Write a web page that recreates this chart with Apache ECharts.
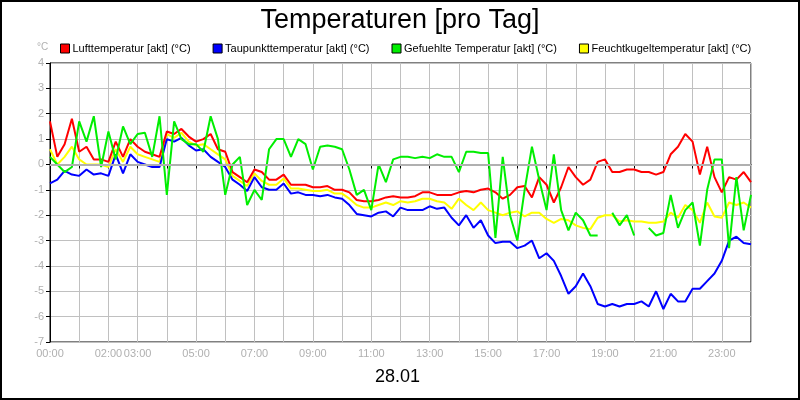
<!DOCTYPE html>
<html><head><meta charset="utf-8">
<script src="https://cdn.jsdelivr.net/npm/echarts@6/dist/echarts.min.js"></script>
<style>html,body{margin:0;padding:0;background:#fff}#c{width:800px;height:400px}</style>
</head><body><div id="c"></div>
<script>
const hours = [];
for (let i = 0; i <= 96; i++) hours.push(i / 4);
const shownLabels = ['00:00','02:00','03:00','05:00','07:00','09:00','11:00','13:00','15:00','17:00','19:00','21:00','23:00'];
const luft = [1.7,0.3,0.8,1.8,0.5,0.7,0.2,0.2,0.1,0.9,0.3,1.0,0.7,0.5,0.4,0.3,
 1.3,1.2,1.4,1.1,0.9,1.0,1.2,0.6,0.5,-0.3,-0.5,-0.7,-0.2,-0.3,-0.6,-0.6,
 -0.4,-0.8,-0.8,-0.8,-0.9,-0.9,-0.85,-1.0,-1.0,-1.1,-1.4,-1.45,-1.45,-1.4,-1.3,-1.25,
 -1.3,-1.3,-1.25,-1.1,-1.1,-1.2,-1.2,-1.2,-1.1,-1.05,-1.1,-1.0,-0.95,-1.1,-1.35,-1.2,
 -0.9,-0.85,-1.3,-0.5,-0.8,-1.5,-0.9,-0.1,-0.5,-0.8,-0.6,0.1,0.2,-0.3,-0.3,-0.2,
 -0.2,-0.3,-0.3,-0.4,-0.3,0.4,0.7,1.2,0.9,-0.4,0.7,-0.5,-1.1,-0.5,-0.6,-0.3,-0.7];
const taupunkt = [-0.75,-0.6,-0.25,-0.4,-0.45,-0.2,-0.4,-0.35,-0.45,0.4,-0.35,0.4,0.1,0.0,-0.1,-0.1,
 1.0,0.9,1.05,0.75,0.55,0.6,0.3,0.1,-0.1,-0.6,-0.8,-1.05,-0.5,-0.9,-1.0,-1.0,
 -0.75,-1.15,-1.1,-1.2,-1.2,-1.25,-1.2,-1.3,-1.35,-1.6,-1.95,-2.0,-2.05,-1.9,-1.85,-2.05,
 -1.7,-1.8,-1.8,-1.8,-1.65,-1.75,-1.7,-2.1,-2.4,-2.0,-2.5,-2.2,-2.8,-3.1,-3.05,-3.05,
 -3.3,-3.2,-3.0,-3.7,-3.5,-3.8,-4.4,-5.1,-4.8,-4.3,-4.8,-5.5,-5.6,-5.5,-5.6,-5.5,
 -5.5,-5.4,-5.6,-5.0,-5.7,-5.1,-5.4,-5.4,-4.9,-4.9,-4.6,-4.3,-3.8,-3.0,-2.85,-3.1,-3.15];
const gefuehlt = [0.3,0.0,-0.3,-0.1,1.7,0.9,1.9,-0.1,1.3,0.2,1.5,0.8,1.2,1.25,0.3,1.9,
 -1.2,1.7,1.0,0.8,0.8,0.5,1.9,1.0,-1.2,0.0,0.3,-1.6,-1.0,-1.4,0.6,1.0,
 1.0,0.3,1.0,0.8,-0.2,0.7,0.75,0.7,0.6,-0.2,-1.2,-1.0,-1.8,0.0,-0.7,0.2,
 0.3,0.3,0.25,0.3,0.25,0.4,0.3,0.3,-0.3,0.5,0.5,0.45,0.45,-2.9,0.3,-2.0,
 -3.0,-1.0,0.7,-0.6,-1.8,0.4,-1.8,-2.6,-1.9,-2.2,-2.8,-2.8,null,-1.9,-2.4,-2.0,
 -2.8,null,-2.5,-2.8,-2.7,-1.2,-2.5,-1.8,-1.5,-3.2,-1.0,0.2,0.2,-3.3,-0.5,-2.6,-1.2];
const feucht = [0.6,0.0,0.3,0.7,0.2,0.0,0.0,0.0,-0.1,0.6,0.1,0.7,0.4,0.3,0.2,0.1,
 1.2,1.05,1.25,0.9,0.75,0.8,0.6,0.4,0.2,-0.45,-0.65,-0.85,-0.35,-0.65,-0.8,-0.8,
 -0.55,-0.95,-0.95,-1.0,-1.05,-1.05,-1.0,-1.15,-1.15,-1.35,-1.6,-1.7,-1.7,-1.6,-1.5,-1.6,
 -1.45,-1.5,-1.45,-1.35,-1.35,-1.45,-1.5,-1.75,-1.35,-1.6,-1.8,-1.5,-1.8,-1.9,-2.0,-1.9,
 -1.85,-2.05,-1.9,-1.9,-2.15,-2.3,-2.15,-2.2,-2.4,-2.5,-2.55,-2.1,-2.0,-2.0,-2.25,-2.2,
 -2.25,-2.25,-2.3,-2.3,-2.25,-1.9,-2.1,-1.6,-1.8,-2.3,-1.5,-2.05,-2.1,-1.5,-1.6,-1.5,-1.7];
const names = ['Lufttemperatur [akt] (°C)','Taupunkttemperatur [akt] (°C)','Gefuehlte Temperatur [akt] (°C)','Feuchtkugeltemperatur [akt] (°C)'];
const colors = ['#ff0000','#0000ff','#00ee00','#ffff00'];
const valuesList = [luft, taupunkt, gefuehlt, feucht];
const zs = [3,2,4,1];

const series = valuesList.map((vals, k) => ({
  name: names[k], type: 'line', showSymbol: false, symbol: 'none',
  data: hours.map((h, i) => [h, vals[i]]), z: zs[k],
  lineStyle: {color: colors[k], width: 2}, itemStyle: {color: colors[k]},
  connectNulls: false, animation: false
}));
series[0].markLine = {silent: true, symbol: 'none', label: {show: false},
  lineStyle: {color: '#b0b0b0', width: 2, type: 'solid'}, data: [{yAxis: 0}]};

function fmt(v) {
  const s = (v < 10 ? '0' : '') + v + ':00';
  return shownLabels.includes(s) ? s : '';
}
const chart = echarts.init(document.getElementById('c'));
chart.setOption({
  animation: false,
  backgroundColor: '#fff',
  title: {text: 'Temperaturen [pro Tag]', left: 'center', top: 2,
    textStyle: {fontFamily: 'Liberation Sans', fontSize: 27, fontWeight: 'normal', color: '#000'}},
  legend: {top: 38, left: 55, itemGap: 22, itemWidth: 9, itemHeight: 9, icon: 'rect',
    itemStyle: {borderColor: '#000', borderWidth: 1},
    textStyle: {fontFamily: 'Liberation Sans', fontSize: 11, color: '#000', padding: [0,0,0,-2]},
    data: names},
  grid: {left: 50, right: 49, top: 63, bottom: 58, show: true, borderColor: '#000', borderWidth: 1},
  xAxis: {type: 'value', min: 0, max: 24, interval: 1,
    axisLine: {lineStyle: {color: '#000'}},
    axisTick: {show: true, length: 4, lineStyle: {color: '#000'}},
    axisLabel: {formatter: fmt, color: '#b0b0b0', fontFamily: 'Liberation Sans', fontSize: 11, margin: 6, showMaxLabel: false},
    splitLine: {lineStyle: {color: '#c0c0c0', width: 1}}},
  yAxis: {type: 'value', min: -7, max: 4, interval: 1,
    axisLine: {show: true, lineStyle: {color: '#000'}},
    axisTick: {show: true, length: 4, lineStyle: {color: '#000'}},
    axisLabel: {color: '#b0b0b0', fontFamily: 'Liberation Sans', fontSize: 11, margin: 6},
    splitLine: {lineStyle: {color: '#c0c0c0', width: 1}}},
  graphic: [
    {type: 'rect', shape: {x: 1, y: 1, width: 798, height: 398}, style: {fill: 'none', stroke: '#000', lineWidth: 2}, silent: true},
    {type: 'text', left: 375, top: 368, style: {text: '28.01', fontFamily: 'Liberation Sans', fontSize: 18, fill: '#000'}},
    {type: 'text', left: 37, top: 42, style: {text: '°C', fontFamily: 'Liberation Sans', fontSize: 10, fill: '#b0b0b0'}}
  ],
  series: series
});
</script></body></html>
